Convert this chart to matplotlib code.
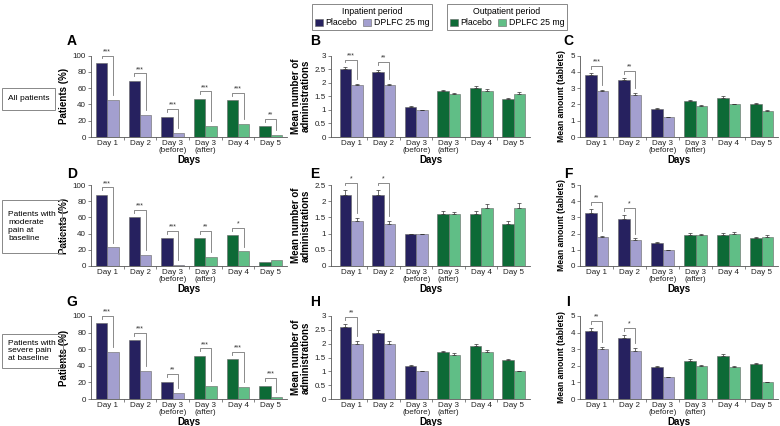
import numpy as np
import matplotlib.pyplot as plt
from matplotlib.patches import Rectangle, Patch
from matplotlib.ticker import FixedLocator, FuncFormatter

plt.rcParams['font.family'] = ['Liberation Sans Narrow', 'Liberation Sans', 'DejaVu Sans']

days = ["Day 1", "Day 2", "Day 3\n(before)", "Day 3\n(after)", "Day 4", "Day 5"]
n_inpatient = 3

# kleuren
in_pla, in_dpl = "#26215f", "#a39fcf"
out_pla, out_dpl = "#0d6a36", "#60be86"

# A - alle patienten, patienten (%)
a_pla = [91, 69, 25, 47, 45, 13]
a_dpl = [45, 27, 5, 14, 16, 3]
a_sig = ["***", "***", "***", "***", "***", "**"]

# B - alle patienten, gemiddeld aantal toedieningen
b_pla = [2.5, 2.4, 1.1, 1.7, 1.8, 1.4]
b_dpl = [1.9, 1.9, 1.0, 1.6, 1.7, 1.6]
b_pla_err = [0.08, 0.08, 0.03, 0.04, 0.07, 0.05]
b_dpl_err = [0.05, 0.06, 0.0, 0.03, 0.07, 0.07]
b_sig = ["***", "**", "", "", "", ""]

# C - alle patienten, gemiddelde hoeveelheid (tabletten)
c_pla = [3.8, 3.5, 1.7, 2.2, 2.4, 2.0]
c_dpl = [2.8, 2.6, 1.2, 1.9, 2.0, 1.6]
c_pla_err = [0.12, 0.12, 0.05, 0.1, 0.12, 0.07]
c_dpl_err = [0.1, 0.1, 0.03, 0.05, 0.05, 0.07]
c_sig = ["***", "**", "", "", "", ""]

# D - matige pijn, patienten (%)
d_pla = [88, 60, 34, 34, 38, 5]
d_dpl = [23, 14, 1.5, 11, 18, 7]
d_sig = ["***", "***", "***", "**", "*", ""]

# E - matige pijn, toedieningen
e_pla = [2.2, 2.2, 1.0, 1.6, 1.6, 1.3]
e_dpl = [1.4, 1.3, 1.0, 1.6, 1.8, 1.8]
e_pla_err = [0.15, 0.15, 0.0, 0.1, 0.1, 0.08]
e_dpl_err = [0.08, 0.08, 0.0, 0.08, 0.1, 0.15]
e_sig = ["*", "*", "", "", "", ""]

# F - matige pijn, tabletten
f_pla = [3.3, 2.9, 1.4, 1.9, 1.9, 1.7]
f_dpl = [1.8, 1.6, 1.0, 1.9, 2.0, 1.8]
f_pla_err = [0.2, 0.22, 0.07, 0.15, 0.15, 0.07]
f_dpl_err = [0.07, 0.1, 0.0, 0.1, 0.08, 0.1]
f_sig = ["**", "*", "", "", "", ""]

# G - ernstige pijn, patienten (%)
g_pla = [91, 71, 21, 52, 48, 16]
g_dpl = [57, 34, 7, 16, 15, 2]
g_sig = ["***", "***", "**", "***", "***", "***"]

# H - ernstige pijn, toedieningen
h_pla = [2.6, 2.4, 1.2, 1.7, 1.9, 1.4]
h_dpl = [2.0, 2.0, 1.0, 1.6, 1.7, 1.0]
h_pla_err = [0.1, 0.1, 0.03, 0.05, 0.1, 0.05]
h_dpl_err = [0.1, 0.1, 0.0, 0.05, 0.08, 0.0]
h_sig = ["**", "", "", "", "", ""]

# I - ernstige pijn, tabletten
i_pla = [4.1, 3.7, 1.9, 2.3, 2.6, 2.1]
i_dpl = [3.0, 2.9, 1.3, 2.0, 1.9, 1.0]
i_pla_err = [0.15, 0.15, 0.07, 0.12, 0.12, 0.07]
i_dpl_err = [0.15, 0.18, 0.03, 0.05, 0.07, 0.0]
i_sig = ["**", "*", "", "", "", ""]

row_labels = ["All patients", "Patients with\nmoderate\npain at\nbaseline",
              "Patients with\nsevere pain\nat baseline"]
ylabels = ["Patients (%)", "Mean number of\nadministrations", "Mean amount (tablets)"]
ylabel_size = [7, 7, 6.2]

fig = plt.figure(figsize=(7.8, 4.26), dpi=100)
W, H = 780, 426

# (links, breedte) en (boven, onder) in pixels
col_x = [(91, 196), (331, 199), (580, 198)]
col_xmin = [-0.5, -0.62, -0.5]
row_y = [(55.5, 137), (185, 266), (316, 399)]

panels = [
    ("A", a_pla, a_dpl, None, None, a_sig, 100, 20),
    ("B", b_pla, b_dpl, b_pla_err, b_dpl_err, b_sig, 3, 0.5),
    ("C", c_pla, c_dpl, c_pla_err, c_dpl_err, c_sig, 5, 1),
    ("D", d_pla, d_dpl, None, None, d_sig, 100, 20),
    ("E", e_pla, e_dpl, e_pla_err, e_dpl_err, e_sig, 2.5, 0.5),
    ("F", f_pla, f_dpl, f_pla_err, f_dpl_err, f_sig, 5, 1),
    ("G", g_pla, g_dpl, None, None, g_sig, 100, 20),
    ("H", h_pla, h_dpl, h_pla_err, h_dpl_err, h_sig, 3, 0.5),
    ("I", i_pla, i_dpl, i_pla_err, i_dpl_err, i_sig, 5, 1),
]

letter_y = [41, 174, 302]
letter_x = [72, 315, 568]

w = 0.35
x = np.arange(len(days))
pla_colors = [in_pla] * n_inpatient + [out_pla] * (len(days) - n_inpatient)
dpl_colors = [in_dpl] * n_inpatient + [out_dpl] * (len(days) - n_inpatient)
fmt = FuncFormatter(lambda v, p: f"{v:g}")

for k, (letter, pla, dpl, pe, de, sig, ymax, ystep) in enumerate(panels):
    r, c = divmod(k, 3)
    left, width = col_x[c]
    top, bottom = row_y[r]
    ax = fig.add_axes([left / W, 1 - bottom / H, width / W, (bottom - top) / H])

    pla = np.array(pla, float)
    dpl = np.array(dpl, float)
    pe = np.zeros(len(days)) if pe is None else np.array(pe)
    de = np.zeros(len(days)) if de is None else np.array(de)

    ax.bar(x - w / 2, pla, w, color=pla_colors, edgecolor="#666666", linewidth=0.4)
    ax.bar(x + w / 2, dpl, w, color=dpl_colors, edgecolor="#666666", linewidth=0.4)
    if pe.any() or de.any():
        ax.errorbar(x - w / 2, pla, yerr=[np.zeros_like(pe), pe], fmt="none",
                    ecolor="#333333", elinewidth=0.5, capsize=1.2, capthick=0.5)
        ax.errorbar(x + w / 2, dpl, yerr=[np.zeros_like(de), de], fmt="none",
                    ecolor="#333333", elinewidth=0.5, capsize=1.2, capthick=0.5)

    # significantie haken
    for i, s in enumerate(sig):
        if not s:
            continue
        y_top = pla[i] + pe[i] + 0.09 * ymax
        x1, x2 = i - w / 2, i + w / 2
        y_r = dpl[i] + de[i] + 0.06 * ymax
        ax.plot([x1, x1, x2, x2], [y_top - 0.035 * ymax, y_top, y_top, y_r],
                color="#777777", lw=0.6, clip_on=False)
        ax.text(i, y_top + 0.005 * ymax, s, ha="center", va="bottom",
                fontsize=5, color="#333333", clip_on=False)

    ax.set_xlim(col_xmin[c], 5.5)
    ax.set_ylim(0, ymax)
    ax.set_yticks(np.arange(0, ymax + ystep / 2, ystep))
    ax.yaxis.set_major_formatter(fmt)
    ax.set_xticks(x)
    ax.set_xticklabels(days, fontsize=5.8, color="#222222", linespacing=1.0)
    ax.xaxis.set_minor_locator(FixedLocator(np.arange(0.5, 5.0, 1.0)))
    ax.tick_params(axis="x", which="major", length=0, pad=2)
    ax.tick_params(axis="x", which="minor", length=2, width=0.5, color="#555555")
    ax.tick_params(axis="y", length=2, width=0.5, labelsize=5.8, pad=1.5,
                   color="#555555", labelcolor="#222222")
    for sp in ["top", "right"]:
        ax.spines[sp].set_visible(False)
    for sp in ["left", "bottom"]:
        ax.spines[sp].set_linewidth(0.6)
        ax.spines[sp].set_color("#555555")

    ax.set_xlabel("Days", fontsize=7, fontweight="bold", family="Liberation Sans", labelpad=1)
    ax.set_ylabel(ylabels[c], fontsize=ylabel_size[c], fontweight="bold",
                  family="Liberation Sans", labelpad=3, linespacing=1.0)

    fig.text(letter_x[c] / W, 1 - letter_y[r] / H, letter, fontsize=10,
             fontweight="bold", family="Liberation Sans", ha="center", va="center")

# rij-labels in kaders
boxes = [(2, 88, 53, 22), (2, 200, 60, 53), (2, 334, 61, 34)]
for (bx, by, bw, bh), lab in zip(boxes, row_labels):
    fig.patches.append(Rectangle((bx / W, 1 - (by + bh) / H), bw / W, bh / H,
                                 transform=fig.transFigure, fill=False,
                                 edgecolor="#888888", lw=0.7))
    fig.text((bx + 6) / W, 1 - (by + bh / 2) / H, lab, fontsize=6,
             family="Liberation Sans", ha="left", va="center", linespacing=1.15)

# legenda's
leg_kw = dict(ncol=2, loc="upper center", fontsize=6.3, title_fontsize=6.3,
              handlelength=0.9, handleheight=0.9, handletextpad=0.3,
              columnspacing=0.7, borderpad=0.35, fancybox=False,
              edgecolor="#888888", framealpha=1, labelspacing=0.2)
h_in = [Patch(facecolor=in_pla, edgecolor="#666666", lw=0.4),
        Patch(facecolor=in_dpl, edgecolor="#666666", lw=0.4)]
h_out = [Patch(facecolor=out_pla, edgecolor="#666666", lw=0.4),
         Patch(facecolor=out_dpl, edgecolor="#666666", lw=0.4)]
l1 = fig.legend(h_in, ["Placebo", "DPLFC 25 mg"], title="Inpatient period",
                bbox_to_anchor=(372 / W, 1.0), **leg_kw)
l2 = fig.legend(h_out, ["Placebo", "DPLFC 25 mg"], title="Outpatient period",
                bbox_to_anchor=(507 / W, 1.0), **leg_kw)
for lg in (l1, l2):
    lg.get_frame().set_linewidth(0.7)

fig.savefig("out.png", dpi=100)
